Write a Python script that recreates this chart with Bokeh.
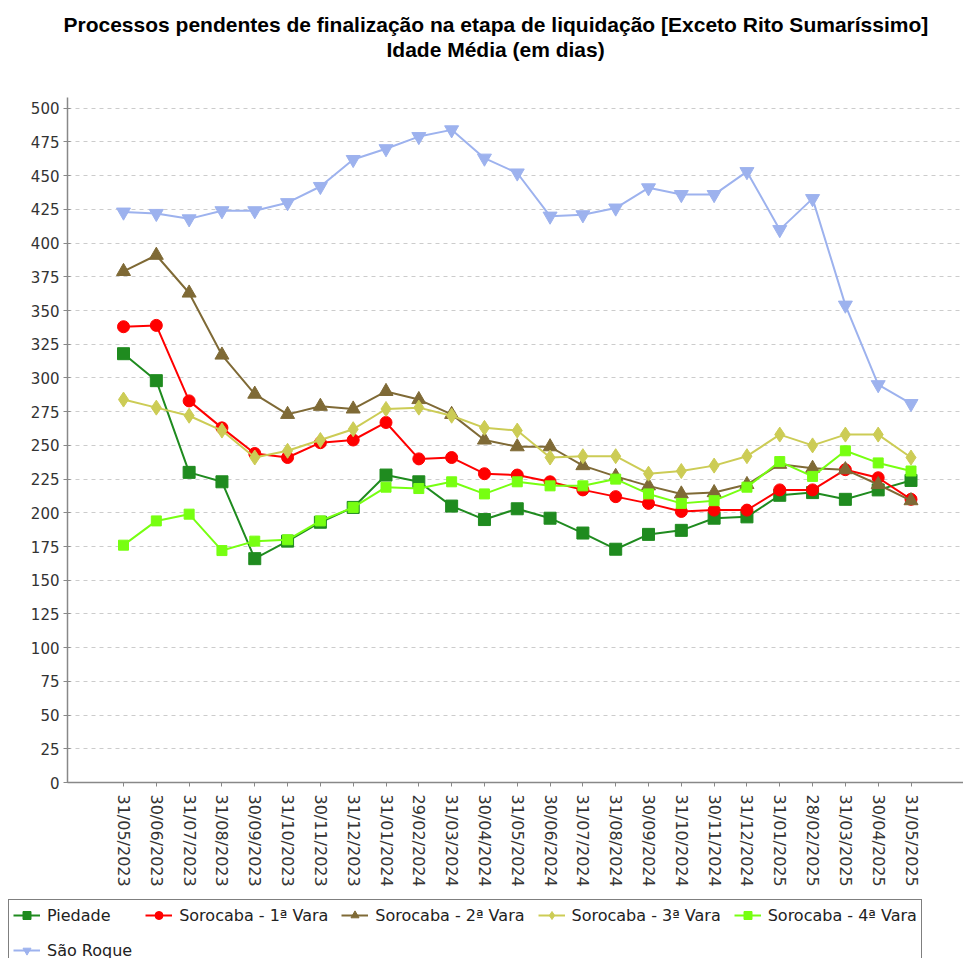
import math
from bokeh.plotting import figure
from bokeh.models import Range1d, FixedTicker, Legend, LegendItem, Title
from bokeh.embed import file_html
from bokeh.resources import INLINE

dates = ["31/05/2023", "30/06/2023", "31/07/2023", "31/08/2023", "30/09/2023",
         "31/10/2023", "30/11/2023", "31/12/2023", "31/01/2024", "29/02/2024",
         "31/03/2024", "30/04/2024", "31/05/2024", "30/06/2024", "31/07/2024",
         "31/08/2024", "30/09/2024", "31/10/2024", "30/11/2024", "31/12/2024",
         "31/01/2025", "28/02/2025", "31/03/2025", "30/04/2025", "31/05/2025"]

piedade = [318, 298, 230, 223, 166, 179, 193, 204, 228, 223, 205, 195,
           203, 196, 185, 173, 184, 187, 196, 197, 213, 215, 210, 217, 224]
sorocaba_1 = [338, 339, 283, 263, 244, 241, 252, 254, 267, 240, 241, 229,
              228, 223, 217, 212, 207, 201, 202, 202, 217, 217, 232, 226, 210]
sorocaba_2 = [379, 391, 363, 317, 288, 273, 279, 277, 290, 284, 273, 254,
              249, 249, 235, 227, 220, 214, 215, 221, 236, 233, 232, 221, 209]
sorocaba_3 = [284, 278, 272, 261, 241, 246, 254, 262, 277, 278, 272, 263,
              261, 241, 242, 242, 229, 231, 235, 242, 258, 250, 258, 258, 241]
sorocaba_4 = [176, 194, 199, 172, 179, 180, 194, 204, 219, 218, 223, 214,
              223, 220, 220, 225, 214, 207, 209, 219, 238, 227, 246, 237, 231]
sao_roque = [423, 422, 418, 424, 424, 430, 442, 462, 470, 479, 484, 463,
             452, 420, 421, 426, 441, 436, 436, 453, 410, 433, 354, 295, 281]

y_ticks = list(range(0, 501, 25))

title_line1 = "Processos pendentes de finalização na etapa de liquidação [Exceto Rito Sumaríssimo]"
title_line2 = "Idade Média (em dias)"

series_names = ["Piedade", "Sorocaba - 1ª Vara", "Sorocaba - 2ª Vara",
                "Sorocaba - 3ª Vara", "Sorocaba - 4ª Vara", "São Roque"]
series_values = [piedade, sorocaba_1, sorocaba_2, sorocaba_3, sorocaba_4, sao_roque]
series_colors = ["#1f8b1f", "#ff0000", "#7f6a36", "#cccc55", "#77ff11", "#9db2ee"]
series_markers = ["square", "circle", "triangle", "diamond", "square", "inverted_triangle"]
series_sizes = [12, 12, 14, 15, 10, 14]

xs = list(range(len(dates)))

p = figure(
    x_range=Range1d(-1.707, 25.6),
    y_range=Range1d(0, 508),
    width=963, height=890,
    min_border_left=67, min_border_right=0, min_border_top=97, min_border_bottom=108,
    output_backend="svg", toolbar_location=None,
    background_fill_color="white", border_fill_color="white",
)
p.outline_line_color = None

# spacer between titles and plot area
p.add_layout(Title(text=" ", text_font_size="22px"), "above")
for txt, off in [(title_line2, 319), (title_line1, -4)]:
    t = Title(text=txt, align="left", text_font="Liberation Sans",
              text_font_style="bold", text_font_size="21px", text_color="black",
              offset=off, standoff=0)
    p.add_layout(t, "above")

p.xgrid.visible = False
p.ygrid.grid_line_color = "#cccccc"
p.ygrid.grid_line_dash = "4 4"
p.ygrid.grid_line_width = 1

p.yaxis.ticker = FixedTicker(ticks=y_ticks)
p.yaxis.minor_tick_line_color = None
p.yaxis.major_tick_in = 3
p.yaxis.major_tick_out = 4
p.yaxis.axis_line_color = "#888888"
p.yaxis.axis_line_width = 1.5
p.yaxis.major_tick_line_color = "#888888"
p.yaxis.major_label_text_font = "DejaVu Sans"
p.yaxis.major_label_text_font_size = "15px"
p.yaxis.major_label_text_color = "#333333"
p.yaxis.major_label_standoff = 4

p.xaxis.ticker = FixedTicker(ticks=xs)
p.xaxis.major_label_overrides = {i: d for i, d in enumerate(dates)}
p.xaxis.minor_tick_line_color = None
p.xaxis.major_tick_in = 0
p.xaxis.major_tick_out = 4
p.xaxis.axis_line_color = "#888888"
p.xaxis.axis_line_width = 1.5
p.xaxis.major_tick_line_color = "#888888"
p.xaxis.major_label_orientation = -math.pi / 2
p.xaxis.major_label_text_font = "DejaVu Sans"
p.xaxis.major_label_text_font_size = "16px"
p.xaxis.major_label_text_color = "#333333"
p.xaxis.major_label_standoff = 8

for vals, col, mk, sz in zip(series_values, series_colors, series_markers, series_sizes):
    p.line(xs, vals, line_color=col, line_width=2)
    p.scatter(xs, vals, marker=mk, size=sz, fill_color=col, line_color=col)

# legend strip below the chart: same series, drawn outside its visible range,
# so only the legend box shows
pl = figure(
    x_range=Range1d(-1.707, 25.6), y_range=Range1d(-2, -1),
    width=963, height=68,
    min_border_left=0, min_border_right=0, min_border_top=0, min_border_bottom=0,
    x_axis_type=None, y_axis_type=None,
    output_backend="svg", toolbar_location=None,
    background_fill_color="white", border_fill_color="white",
)
pl.outline_line_color = None
pl.xgrid.visible = False
pl.ygrid.visible = False

items = []
for name, vals, col, mk, sz in zip(series_names, series_values, series_colors,
                                    series_markers, series_sizes):
    lr = pl.line(xs, vals, line_color=col, line_width=2)
    sr = pl.scatter(xs, vals, marker=mk, size=sz, fill_color=col, line_color=col)
    items.append(LegendItem(label=name, renderers=[lr, sr]))

legend = Legend(items=items, orientation="horizontal", ncols=5, location=(8, -8))
legend.border_line_color = "black"
legend.border_line_width = 1
legend.background_fill_color = "white"
legend.background_fill_alpha = 1
legend.label_text_font = "DejaVu Sans"
legend.label_text_font_size = "16px"
legend.label_text_color = "#222222"
legend.glyph_width = 27
legend.glyph_height = 20
legend.label_standoff = 7
legend.spacing = 13
legend.padding = 4
legend.margin = 0
legend.label_height = 22
pl.add_layout(legend, "center")

open("out.html", "w").write(file_html([p, pl], INLINE))
